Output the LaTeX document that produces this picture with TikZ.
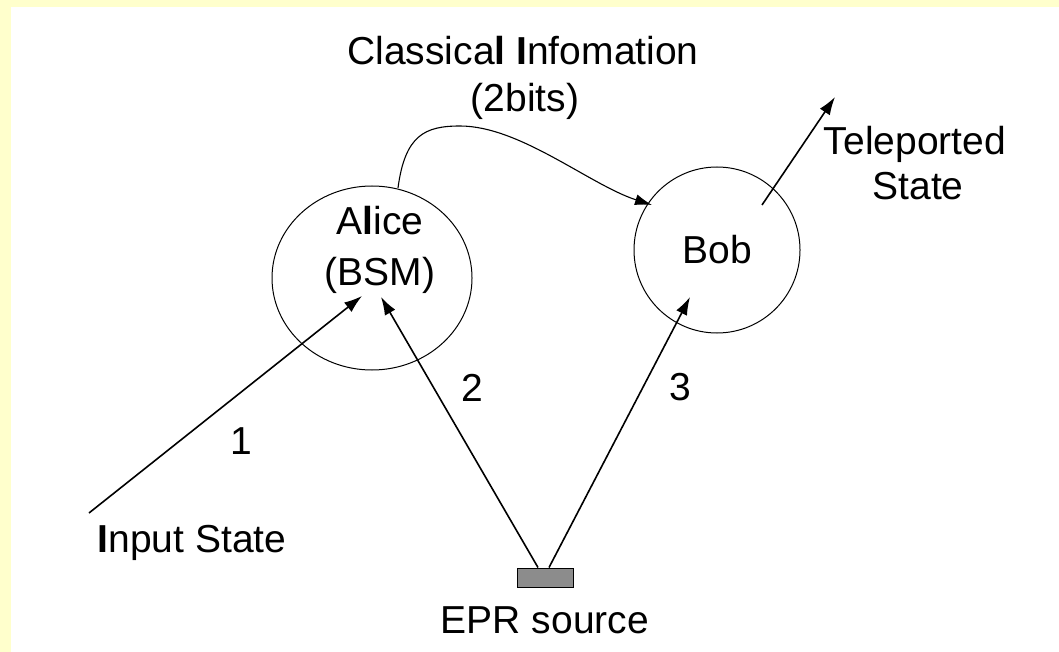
\documentclass[tikz,border=0pt]{standalone}
\usepackage{fontspec}
\setmainfont{Liberation Sans}
\usetikzlibrary{arrows.meta,shapes.geometric}
\definecolor{pagebg}{HTML}{FFFFCC}
\definecolor{eprgray}{HTML}{8C8C8C}
\tikzset{
  lbl/.style={inner sep=0pt, anchor=base, font=\fontsize{39}{47}\selectfont},
  party/.style={draw, line width=1pt, inner sep=0pt},
  beam/.style={line width=1.6pt, -{Latex[length=18pt,width=12pt]}},
  msg/.style={line width=1.1pt, -{Latex[length=17pt,width=11pt]}},
}
\begin{document}
\begin{tikzpicture}[x=1pt,y=-1pt]
\useasboundingbox (0,0) rectangle (1059,652);
\fill[pagebg] (0,0) rectangle (1059,652);
\fill[white] (11,7) rectangle (1059,652);

% parties
\node[party, ellipse, minimum width=200pt, minimum height=184pt] (alice) at (372,278) {};
\node[party, circle, minimum size=166pt, font=\fontsize{39}{47}\selectfont] (bob) at (717,250) {Bob};
\node[draw, line width=1pt, fill=eprgray, minimum width=56pt, minimum height=19pt, inner sep=0pt] (epr) at (545,577.5) {};

% texts
\node[lbl] (alicename) at (380,235) {A{\bfseries l}ice};
\node[lbl] (alicebsm) at (380,285) {(BSM)};
\node[lbl] (title) at (523,65) {Classica{\bfseries l} {\bfseries I}nfomation};
\node[lbl] (bits) at (525,112) {(2bits)};
\node[lbl] (tele1) at (915,155) {Teleported};
\node[lbl] (tele2) at (918,200) {State};
\node[lbl] (input) at (192,552) {{\bfseries I}nput State};
\node[lbl] (eprlbl) at (545,633) {EPR source};
\node[lbl] (n1) at (241,454) {1};
\node[lbl] (n2) at (472,401) {2};
\node[lbl] (n3) at (680,400) {3};

% connector end points
\coordinate (instart) at (89,513);
\coordinate (tipA) at (362,296);
\coordinate (tipB) at (381,297);
\coordinate (tipC) at (690,297);
\coordinate (e2) at ([xshift=-7pt]epr.north);
\coordinate (e3) at ([xshift=4pt]epr.north);
\coordinate (telestart) at (762,205);
\coordinate (teletip) at (835,97);
\coordinate (cstart) at (398,188);
\coordinate (cpeak) at (460,126);
\coordinate (ctip) at (652,205);

% connectors
\draw[beam] (instart) -- (tipA);
\draw[beam] (e2) -- (tipB);
\draw[beam] (e3) -- (tipC);
\draw[beam] (telestart) -- (teletip);
\draw[msg] (cstart) .. controls (405,135) and (425,126) .. (cpeak)
  .. controls (520,126) and (590,185) .. (ctip);
\end{tikzpicture}
\end{document}
